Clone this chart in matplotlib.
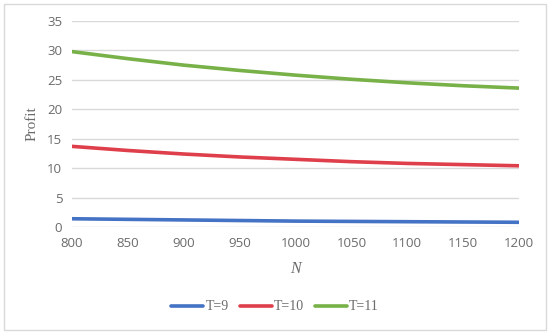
import numpy as np
import matplotlib.pyplot as plt
from matplotlib.patches import Rectangle

# data
n_vals = [800, 850, 900, 950, 1000, 1050, 1100, 1150, 1200]
profit_t9 = [1.4, 1.3, 1.2, 1.1, 1.0, 0.95, 0.9, 0.85, 0.8]
profit_t10 = [13.7, 13.0, 12.4, 11.9, 11.5, 11.1, 10.8, 10.6, 10.4]
profit_t11 = [29.8, 28.6, 27.5, 26.6, 25.8, 25.1, 24.5, 24.0, 23.6]
labels = ["T=9", "T=10", "T=11"]
colors = ["#4472C4", "#DF3F4A", "#77B148"]

fig = plt.figure(figsize=(5.5, 3.33), dpi=100)
fig.patches.append(Rectangle((0.008, 0.01), 0.985, 0.978, transform=fig.transFigure,
                             fill=False, edgecolor="#D9D9D9", linewidth=1))
ax = fig.add_axes([72 / 550, 1 - 227 / 333, (519 - 72) / 550, (227 - 21) / 333])

for ys, lab, c in zip([profit_t9, profit_t10, profit_t11], labels, colors):
    ax.plot(n_vals, ys, color=c, linewidth=2.6, label=lab, solid_capstyle="round")

ax.set_xlim(800, 1200)
ax.set_ylim(0, 35)
ax.set_xticks(n_vals)
ax.set_yticks(np.arange(0, 36, 5))
ax.grid(axis="y", color="#D9D9D9", linewidth=1)
ax.set_axisbelow(True)
for s in ax.spines.values():
    s.set_visible(False)
ax.tick_params(length=0, labelsize=9.5, labelcolor="#6B6B6B", pad=7)
for t in ax.get_xticklabels() + ax.get_yticklabels():
    t.set_fontfamily("Open Sans")

ax.set_xlabel("N", fontfamily="Liberation Serif", fontstyle="italic", fontsize=11.5,
              color="#6B6B6B", labelpad=8)
ax.set_ylabel("Profit", fontfamily="Liberation Serif", fontsize=11, color="#6B6B6B", labelpad=6)

leg = fig.legend(loc="center", bbox_to_anchor=(0.5, 1 - 307 / 333), ncol=3, frameon=False,
                 prop={"family": "Liberation Serif", "size": 10}, handlelength=2.3,
                 handletextpad=0.15, columnspacing=0.8)
for t in leg.get_texts():
    t.set_color("#6B6B6B")

fig.savefig("out.png", dpi=100)
